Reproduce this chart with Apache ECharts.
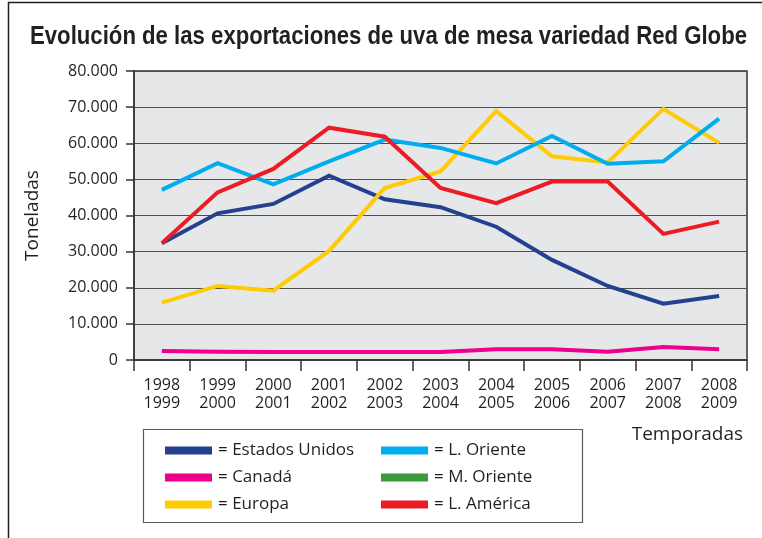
<!DOCTYPE html>
<html>
<head>
<meta charset="utf-8">
<script src="https://cdn.jsdelivr.net/npm/echarts@6/dist/echarts.min.js"></script>
<style>
  html, body { margin: 0; padding: 0; background: #fff; }
  #chart { width: 762px; height: 538px; }
</style>
</head>
<body>
<div id="chart"></div>
<script>
// temporadas
var temporadas = ['1998\n1999', '1999\n2000', '2000\n2001', '2001\n2002', '2002\n2003', '2003\n2004',
	'2004\n2005', '2005\n2006', '2006\n2007', '2007\n2008', '2008\n2009'];

// toneladas por destino
var estadosUnidos = [32300, 40600, 43200, 51000, 44500, 42300, 36900, 27700, 20500, 15600, 17700];
var canada = [2500, 2300, 2200, 2200, 2200, 2200, 3000, 3000, 2300, 3600, 3000];
var europa = [15900, 20500, 19200, 30200, 47600, 52200, 68900, 56400, 54700, 69500, 60100];
var lOriente = [47100, 54500, 48600, 55000, 61000, 58700, 54400, 62000, 54300, 55000, 66800];
var mOriente = [];
var lAmerica = [32300, 46400, 52900, 64300, 61800, 47600, 43400, 49400, 49400, 34900, 38300];

var yTicks = [0, 10000, 20000, 30000, 40000, 50000, 60000, 70000, 80000];

var tituloTxt = 'Evolución de las exportaciones de uva de mesa variedad Red Globe';
var fontMain = '"Open Sans", "Noto Sans", sans-serif';
var fontTitulo = 'bold 26px "Liberation Sans", Arial, sans-serif';

function fmtMiles(v){
	if(v == 0) return '0';
	var s = String(v);
	return s.replace(/\B(?=(\d{3})+(?!\d))/g, '.');
}

// ancho del titulo para comprimirlo (fuente condensada)
var ctx = document.createElement('canvas').getContext('2d');
ctx.font = fontTitulo;
var anchoTitulo = ctx.measureText(tituloTxt).width;
var escalaTitulo = 717 / anchoTitulo;

var myChart = echarts.init(document.getElementById('chart'));

function mkSerie(name, data, color){
	return {
		name: name,
		type: 'line',
		data: data,
		showSymbol: false,
		symbol: 'none',
		lineStyle: { width: 4, color: color, cap: 'butt', join: 'miter' },
		itemStyle: { color: color },
		animation: false
	};
}

var legendBase = {
	orient: 'vertical',
	icon: 'rect',
	itemWidth: 47,
	itemHeight: 8,
	itemGap: 10,
	formatter: '= {name}',
	textStyle: { fontFamily: fontMain, fontSize: 17, color: '#231f20', lineHeight: 17, padding: [0, 0, 0, 1] },
	selectedMode: false
};

var option = {
	backgroundColor: '#fff',
	animation: false,
	legend: [
		Object.assign({}, legendBase, { left: 160, top: 437, data: ['Estados Unidos', 'Canadá', 'Europa'] }),
		Object.assign({}, legendBase, { left: 376, top: 437, data: ['L. Oriente', 'M. Oriente', 'L. América'] })
	],
	grid: {
		left: 134,
		right: 15,
		top: 71,
		bottom: 178,
		show: true,
		backgroundColor: '#e6e7e8',
		borderColor: '#333',
		borderWidth: 1.5
	},
	xAxis: {
		type: 'category',
		data: temporadas,
		boundaryGap: true,
		name: 'Temporadas',
		nameLocation: 'end',
		nameGap: 0,
		nameTextStyle: {
			fontFamily: fontMain, fontSize: 19, color: '#231f20',
			align: 'right', verticalAlign: 'top', padding: [65, 4, 0, 0]
		},
		axisLine: { show: true, lineStyle: { color: '#333', width: 1.5 } },
		axisTick: { show: true, length: 11, lineStyle: { color: '#333', width: 1.5 } },
		axisLabel: {
			fontFamily: fontMain, fontSize: 16, color: '#231f20',
			lineHeight: 18, margin: 16, interval: 0
		},
		splitLine: { show: false }
	},
	yAxis: {
		type: 'value',
		min: 0,
		max: 80000,
		interval: 10000,
		name: 'Toneladas',
		nameLocation: 'middle',
		nameGap: 92,
		nameRotate: 90,
		nameTextStyle: { fontFamily: fontMain, fontSize: 19, color: '#231f20' },
		axisLine: { show: true, lineStyle: { color: '#333', width: 1.5 } },
		axisTick: { show: true, length: 8, lineStyle: { color: '#333', width: 1.5 } },
		axisLabel: {
			fontFamily: fontMain, fontSize: 16, color: '#231f20', margin: 16,
			formatter: function(v){ return yTicks.indexOf(v) >= 0 ? fmtMiles(v) : ''; }
		},
		splitLine: { show: true, lineStyle: { color: '#4d4d4f', width: 1.2 } }
	},
	graphic: [
		{
			type: 'rect',
			shape: { x: 8.5, y: 2.5, width: 800, height: 600 },
			style: { fill: 'none', stroke: '#231f20', lineWidth: 1.5 },
			z: -1
		},
		{
			type: 'rect',
			shape: { x: 143.5, y: 429.5, width: 439, height: 93 },
			style: { fill: '#fff', stroke: '#58595b', lineWidth: 1.2 },
			z: -1
		},
		{
			type: 'text',
			x: 30,
			y: 37,
			scaleX: escalaTitulo,
			style: {
				text: tituloTxt,
				x: 0,
				y: 0,
				align: 'left',
				verticalAlign: 'middle',
				font: fontTitulo,
				fill: '#231f20'
			}
		}
	],
	series: [
		mkSerie('Estados Unidos', estadosUnidos, '#25408f'),
		mkSerie('Canadá', canada, '#ec008c'),
		mkSerie('Europa', europa, '#ffcb05'),
		mkSerie('L. Oriente', lOriente, '#00aeef'),
		mkSerie('M. Oriente', mOriente, '#3a9a3c'),
		mkSerie('L. América', lAmerica, '#ed1c24')
	]
};

myChart.setOption(option);
</script>
</body>
</html>
